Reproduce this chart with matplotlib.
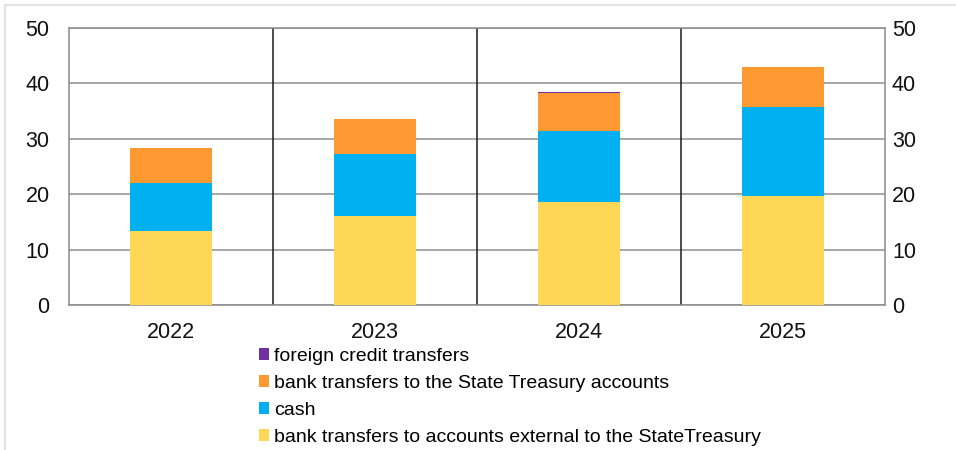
import matplotlib
matplotlib.use("Agg")
import matplotlib.pyplot as plt
import numpy as np
from matplotlib.patches import Rectangle

years = ["2022", "2023", "2024", "2025"]
external_transfers = [13.4, 16.1, 18.6, 19.6]
cash = [8.7, 11.2, 12.8, 16.2]
treasury_transfers = [6.2, 6.2, 6.9, 7.2]
foreign_credit = [0.0, 0.0, 0.1, 0.0]
y_ticks = [0, 10, 20, 30, 40, 50]

c_yellow = "#FFD757"
c_blue = "#00B0F0"
c_orange = "#FF9A33"
c_purple = "#7030A0"

plt.rcParams["font.family"] = ["Liberation Sans", "DejaVu Sans"]

fig = plt.figure(figsize=(9.56, 4.5), dpi=100)
ax = fig.add_axes([69/956, 1-305/450, (885-69)/956, (305-28)/450])

x = np.arange(len(years))
w = 0.4
b1 = np.array(external_transfers)
b2 = b1 + np.array(cash)
b3 = b2 + np.array(treasury_transfers)
ax.bar(x, external_transfers, w, color=c_yellow, zorder=3,
       label="bank transfers to accounts external to the StateTreasury")
ax.bar(x, cash, w, bottom=b1, color=c_blue, zorder=3, label="cash")
ax.bar(x, treasury_transfers, w, bottom=b2, color=c_orange, zorder=3,
       label="bank transfers to the State Treasury accounts")
ax.bar(x, foreign_credit, w, bottom=b3, color=c_purple, zorder=3,
       label="foreign credit transfers")

ax.set_xlim(-0.5, len(years) - 0.5)
ax.set_ylim(0, 50)
ax.set_yticks(y_ticks)
ax.set_xticks(x)
ax.set_xticklabels(years)
ax.yaxis.grid(True, color="#a6a6a6", linewidth=1.4, zorder=1)
for b in np.arange(0.5, len(years) - 0.5, 1.0):
    ax.axvline(b, color="#1a1a1a", linewidth=1.1, zorder=2)
for s in ax.spines.values():
    s.set_color("#8c8c8c")
    s.set_linewidth(1.1)
ax.tick_params(axis="both", length=0, labelsize=15.5, colors="#111111")
ax.tick_params(axis="x", pad=12)
ax.tick_params(axis="y", pad=14)

ax2 = ax.twinx()
ax2.set_ylim(0, 50)
ax2.set_yticks(y_ticks)
ax2.tick_params(axis="y", length=0, labelsize=15.5, colors="#111111", pad=5)
for s in ax2.spines.values():
    s.set_visible(False)

handles, labels = ax.get_legend_handles_labels()
fig.legend(handles[::-1], labels[::-1], loc="upper left",
           bbox_to_anchor=(251/956, 1-340/450), frameon=False,
           fontsize=14, handlelength=0.55, handleheight=0.55,
           handletextpad=0.25, labelspacing=0.52, borderaxespad=0)

fig.patches.append(Rectangle((5/956, -0.01), 1.0, 1 - 5/450 + 0.01,
                             transform=fig.transFigure, fill=False,
                             edgecolor="#e3e3e3", linewidth=1.5))

fig.savefig("out.png", dpi=100)
